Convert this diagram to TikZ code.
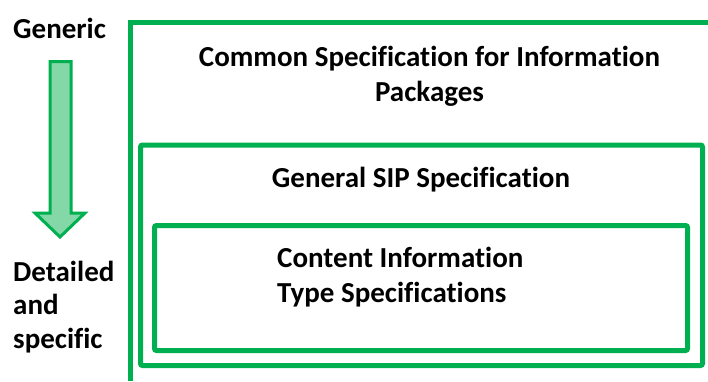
\documentclass[tikz,border=0pt]{standalone}
\usepackage{fontspec}
\setmainfont[Ligatures=NoCommon]{Carlito}
\definecolor{lgreen}{HTML}{00B050}
\definecolor{lfill}{HTML}{84D8A8}
\begin{document}
\begin{tikzpicture}[x=1pt,y=-1pt,
  frame/.style={draw=lgreen,line width=5pt},
  lbl/.style={anchor=base,font=\bfseries\fontsize{29}{34}\selectfont,inner sep=0pt},
  lbll/.style={lbl,anchor=base west}]
\useasboundingbox (0,0) rectangle (708,381);
% outer frame
\coordinate (ob) at (130,381);
\coordinate (oc) at (130,22);
\coordinate (or) at (708,22);
\draw[frame,line join=miter] (ob) -- (oc) -- (or);
% middle and inner boxes
\draw[frame,rounded corners=2pt] (140.5,145) rectangle (702.5,365.5);
\draw[frame,rounded corners=2pt] (154.5,225.5) rectangle (687.5,350.5);
% arrow
\draw[draw=lgreen,fill=lfill,line width=3pt,line join=miter]
  (50,61.5) -- (71,61.5) -- (71,213) -- (85,213) -- (60,237) -- (35,213) -- (50,213) -- cycle;
% texts
\node[lbll] (gen) at (13,38) {Generic};
\node[lbll] (det1) at (13,281) {Detailed};
\node[lbll] (det2) at (13,314.5) {and};
\node[lbll] (det3) at (13,348) {specific};
\node[lbl] (t1) at (429.5,66) {Common Specification for Information};
\node[lbl] (t2) at (429.5,101) {Packages};
\node[lbl] (g1) at (421,187) {General SIP Specification};
\node[lbll] (c1) at (277,267) {Content Information};
\node[lbll] (c2) at (277,302) {Type Specifications};
\end{tikzpicture}
\end{document}
